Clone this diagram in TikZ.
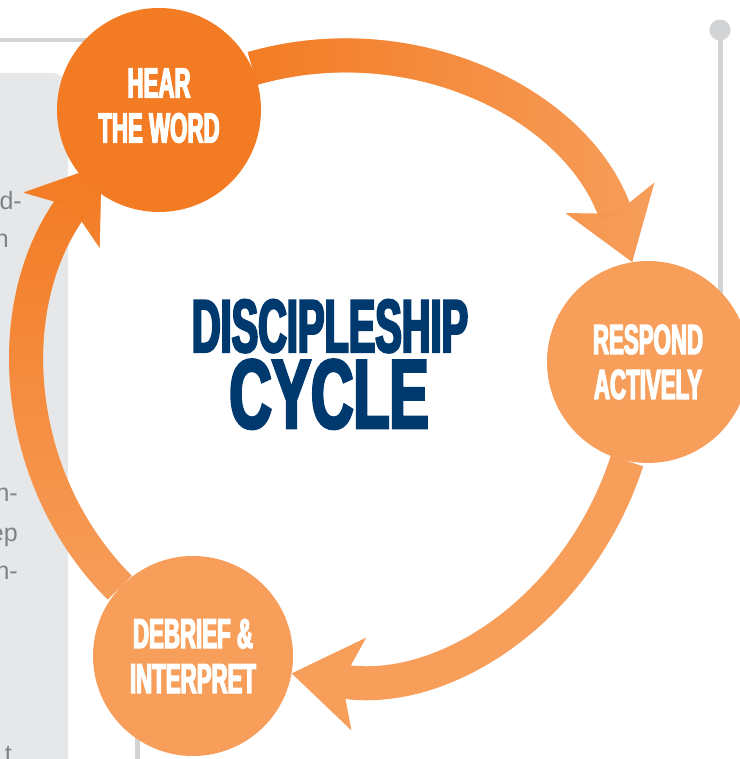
\documentclass[tikz,border=0pt]{standalone}
\usepackage{fontspec}
\setmainfont{Liberation Sans}
\newfontfamily\stagefont{Liberation Sans}[FakeStretch=0.53,FakeBold=3]
\newfontfamily\bigfont{Liberation Sans}[FakeStretch=0.6,FakeBold=3]
\usetikzlibrary{arrows.meta,backgrounds,fadings}

\definecolor{fig-dark-orange}{RGB}{243,123,35}
\definecolor{fig-light-orange}{RGB}{247,158,91}
\definecolor{fig-navy}{RGB}{0,57,110}
\definecolor{fig-panel}{RGB}{230,231,232}
\definecolor{fig-rule}{RGB}{209,211,212}
\definecolor{fig-text}{RGB}{128,130,133}

\tikzfading[name=fade-up, bottom color=transparent!100, top color=transparent!0]
\tikzfading[name=fade-left, left color=transparent!0, right color=transparent!100]

\tikzset{
  stage/.style={circle, minimum size=#1, inner sep=0pt, text=white, align=center,
    font=\stagefont\bfseries\fontsize{42}{45}\selectfont},
  title/.style={anchor=base, inner sep=0pt, text=fig-navy},
  ring/.style={line width=34pt, -{Stealth[length=68pt, width=94pt, inset=17pt, line width=0pt]}},
  side text/.style={anchor=base east, inner sep=0pt, text=fig-text, font=\fontsize{25}{25}\selectfont},
}

\begin{document}
\begin{tikzpicture}[x=1pt, y=1pt]
    \useasboundingbox (0,0) rectangle (739,759);

    \node[stage=204pt, fill=fig-dark-orange, text depth=9pt] (hear) at (159,649) {HEAR\\THE WORD};
    \node[stage=202pt, fill=fig-light-orange] (respond) at (648,397) {RESPOND\\ACTIVELY};
    \node[stage=200pt, fill=fig-light-orange] (debrief) at (193,103) {DEBRIEF \&\\INTERPRET};

    \node[title, font=\stagefont\bfseries\fontsize{75}{75}\selectfont] (disc) at (330,407) {DISCIPLESHIP};
    \node[title, font=\bigfont\bfseries\fontsize{98}{98}\selectfont] (cyc) at (329,331) {CYCLE};

    \begin{pgfonlayer}{background}
      \fill[fig-panel, rounded corners=16pt] (-30,-30) rectangle (68,686);
      \draw[fig-rule, line width=4pt] (-5,719) -- (100,719);
      \draw[fig-rule, line width=5pt] (720,729) -- (720,380);
      \fill[fig-rule] (720,729) circle (10.5);
      \draw[fig-rule, line width=5pt] (137,-5) -- (137,60);

      \node[side text] (t1) at (22,549) {d-};
      \node[side text] (t2) at (9,511) {n};
      \node[side text] (t3) at (18,257) {n-};
      \node[side text] (t4) at (18,217) {ep};
      \node[side text] (t5) at (18,179) {n-};
      \node[side text] (t6) at (12,-4) {t};

      \draw[ring, fig-light-orange] (hear.24) to[out=16, in=109] (respond.99);
      \draw[ring, fig-dark-orange, path fading=fade-left] (hear.24) to[out=16, in=109] (respond.99);

      \draw[ring, fig-light-orange] (respond.258) to[out=-108, in=-9] (debrief.-10);

      \draw[ring, fig-light-orange, shorten >=-23pt] (debrief.137) to[out=135, in=234, looseness=0.96] (hear.226);
      \draw[ring, fig-dark-orange, shorten >=-23pt, path fading=fade-up] (debrief.137) to[out=135, in=234, looseness=0.96] (hear.226);
    \end{pgfonlayer}
  \end{tikzpicture}
\end{document}
